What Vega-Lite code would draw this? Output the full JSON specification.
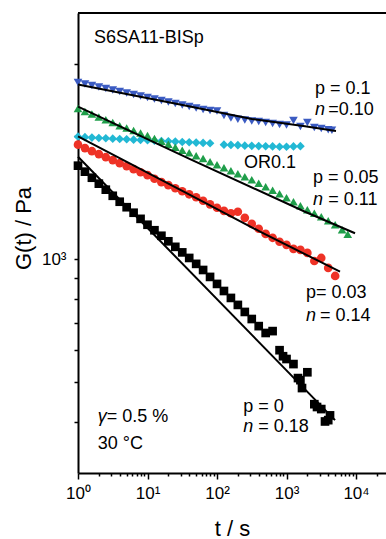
{
  "$schema": "https://vega.github.io/schema/vega-lite/v6.json",
  "width": 308,
  "height": 460,
  "autosize": {"type": "none"},
  "padding": {"left": 78, "top": 13, "right": 0, "bottom": 66},
  "background": "white",
  "config": {"view": {"stroke": null}, "font": "Liberation Sans"},
  "datasets": {
    "pts": [
      {"s": "OR0.1", "t": 1, "G": 1994}, {"s": "OR0.1", "t": 1.259, "G": 1988}, {"s": "OR0.1", "t": 1.585, "G": 1983}, {"s": "OR0.1", "t": 1.995, "G": 1979}, {"s": "OR0.1", "t": 2.512, "G": 1976}, {"s": "OR0.1", "t": 3.162, "G": 1971}, {"s": "OR0.1", "t": 3.981, "G": 1968}, {"s": "OR0.1", "t": 5.012, "G": 1965}, {"s": "OR0.1", "t": 6.31, "G": 1960}, {"s": "OR0.1", "t": 7.943, "G": 1957},
      {"s": "OR0.1", "t": 10, "G": 1954}, {"s": "OR0.1", "t": 12.59, "G": 1949}, {"s": "OR0.1", "t": 15.85, "G": 1946}, {"s": "OR0.1", "t": 19.95, "G": 1943}, {"s": "OR0.1", "t": 25.12, "G": 1939}, {"s": "OR0.1", "t": 31.62, "G": 1935}, {"s": "OR0.1", "t": 39.81, "G": 1932}, {"s": "OR0.1", "t": 50.12, "G": 1928}, {"s": "OR0.1", "t": 63.1, "G": 1925}, {"s": "OR0.1", "t": 79.43, "G": 1921},
      {"s": "OR0.1", "t": 125.9, "G": 1906}, {"s": "OR0.1", "t": 158.5, "G": 1903}, {"s": "OR0.1", "t": 199.5, "G": 1900}, {"s": "OR0.1", "t": 251.2, "G": 1895}, {"s": "OR0.1", "t": 316.2, "G": 1893}, {"s": "OR0.1", "t": 398.1, "G": 1891}, {"s": "OR0.1", "t": 501.2, "G": 1889}, {"s": "OR0.1", "t": 631, "G": 1887}, {"s": "OR0.1", "t": 794.3, "G": 1884}, {"s": "OR0.1", "t": 1000, "G": 1884}, {"s": "OR0.1", "t": 1259, "G": 1887}, {"s": "OR0.1", "t": 1585, "G": 1890},

      {"s": "p0.05", "t": 1, "G": 2336}, {"s": "p0.05", "t": 1.259, "G": 2296}, {"s": "p0.05", "t": 1.585, "G": 2264}, {"s": "p0.05", "t": 1.995, "G": 2226}, {"s": "p0.05", "t": 2.512, "G": 2194}, {"s": "p0.05", "t": 3.162, "G": 2158}, {"s": "p0.05", "t": 3.981, "G": 2121}, {"s": "p0.05", "t": 5.012, "G": 2092}, {"s": "p0.05", "t": 6.31, "G": 2063}, {"s": "p0.05", "t": 7.943, "G": 2034},
      {"s": "p0.05", "t": 10, "G": 2006}, {"s": "p0.05", "t": 12.59, "G": 1972}, {"s": "p0.05", "t": 15.85, "G": 1944}, {"s": "p0.05", "t": 19.95, "G": 1911}, {"s": "p0.05", "t": 25.12, "G": 1879}, {"s": "p0.05", "t": 31.62, "G": 1848}, {"s": "p0.05", "t": 39.81, "G": 1822}, {"s": "p0.05", "t": 50.12, "G": 1791}, {"s": "p0.05", "t": 63.1, "G": 1762}, {"s": "p0.05", "t": 79.43, "G": 1732},
      {"s": "p0.05", "t": 100, "G": 1703}, {"s": "p0.05", "t": 125.9, "G": 1674}, {"s": "p0.05", "t": 158.5, "G": 1646}, {"s": "p0.05", "t": 199.5, "G": 1619}, {"s": "p0.05", "t": 251.2, "G": 1591}, {"s": "p0.05", "t": 316.2, "G": 1565}, {"s": "p0.05", "t": 398.1, "G": 1534}, {"s": "p0.05", "t": 501.2, "G": 1504}, {"s": "p0.05", "t": 631, "G": 1474}, {"s": "p0.05", "t": 794.3, "G": 1445},
      {"s": "p0.05", "t": 1000, "G": 1413}, {"s": "p0.05", "t": 1259, "G": 1381}, {"s": "p0.05", "t": 1585, "G": 1351}, {"s": "p0.05", "t": 1995, "G": 1321}, {"s": "p0.05", "t": 2512, "G": 1295}, {"s": "p0.05", "t": 3162, "G": 1270}, {"s": "p0.05", "t": 3981, "G": 1241}, {"s": "p0.05", "t": 5012, "G": 1214}, {"s": "p0.05", "t": 6310, "G": 1180}, {"s": "p0.05", "t": 7600, "G": 1150},

      {"s": "p0.1", "t": 1, "G": 2705}, {"s": "p0.1", "t": 1.259, "G": 2682}, {"s": "p0.1", "t": 1.585, "G": 2660}, {"s": "p0.1", "t": 1.995, "G": 2637}, {"s": "p0.1", "t": 2.512, "G": 2615}, {"s": "p0.1", "t": 3.162, "G": 2593}, {"s": "p0.1", "t": 3.981, "G": 2570}, {"s": "p0.1", "t": 5.012, "G": 2549}, {"s": "p0.1", "t": 6.31, "G": 2527}, {"s": "p0.1", "t": 7.943, "G": 2506},
      {"s": "p0.1", "t": 10, "G": 2484}, {"s": "p0.1", "t": 12.59, "G": 2464}, {"s": "p0.1", "t": 15.85, "G": 2443}, {"s": "p0.1", "t": 19.95, "G": 2423}, {"s": "p0.1", "t": 25.12, "G": 2402}, {"s": "p0.1", "t": 31.62, "G": 2382}, {"s": "p0.1", "t": 39.81, "G": 2362}, {"s": "p0.1", "t": 50.12, "G": 2342}, {"s": "p0.1", "t": 63.1, "G": 2322}, {"s": "p0.1", "t": 79.43, "G": 2309},
      {"s": "p0.1", "t": 100, "G": 2303}, {"s": "p0.1", "t": 125.9, "G": 2245}, {"s": "p0.1", "t": 158.5, "G": 2213}, {"s": "p0.1", "t": 199.5, "G": 2200}, {"s": "p0.1", "t": 251.2, "G": 2189}, {"s": "p0.1", "t": 316.2, "G": 2176}, {"s": "p0.1", "t": 398.1, "G": 2170}, {"s": "p0.1", "t": 501.2, "G": 2158}, {"s": "p0.1", "t": 631, "G": 2146}, {"s": "p0.1", "t": 794.3, "G": 2134},
      {"s": "p0.1", "t": 1000, "G": 2128}, {"s": "p0.1", "t": 1259, "G": 2183}, {"s": "p0.1", "t": 1585, "G": 2110}, {"s": "p0.1", "t": 1995, "G": 2158}, {"s": "p0.1", "t": 2512, "G": 2098}, {"s": "p0.1", "t": 3162, "G": 2086}, {"s": "p0.1", "t": 3981, "G": 2074}, {"s": "p0.1", "t": 4500, "G": 2068},

      {"s": "p0.03", "t": 1, "G": 1906}, {"s": "p0.03", "t": 1.259, "G": 1869}, {"s": "p0.03", "t": 1.585, "G": 1837}, {"s": "p0.03", "t": 1.995, "G": 1807}, {"s": "p0.03", "t": 2.512, "G": 1776}, {"s": "p0.03", "t": 3.162, "G": 1747}, {"s": "p0.03", "t": 3.981, "G": 1717}, {"s": "p0.03", "t": 5.012, "G": 1689}, {"s": "p0.03", "t": 6.31, "G": 1660}, {"s": "p0.03", "t": 7.943, "G": 1632},
      {"s": "p0.03", "t": 10, "G": 1605}, {"s": "p0.03", "t": 12.59, "G": 1573}, {"s": "p0.03", "t": 15.85, "G": 1543}, {"s": "p0.03", "t": 19.95, "G": 1517}, {"s": "p0.03", "t": 25.12, "G": 1491}, {"s": "p0.03", "t": 31.62, "G": 1466}, {"s": "p0.03", "t": 39.81, "G": 1441}, {"s": "p0.03", "t": 50.12, "G": 1417}, {"s": "p0.03", "t": 63.1, "G": 1390}, {"s": "p0.03", "t": 79.43, "G": 1362},
      {"s": "p0.03", "t": 100, "G": 1336}, {"s": "p0.03", "t": 125.9, "G": 1313}, {"s": "p0.03", "t": 158.5, "G": 1295}, {"s": "p0.03", "t": 199.5, "G": 1306}, {"s": "p0.03", "t": 251.2, "G": 1262}, {"s": "p0.03", "t": 316.2, "G": 1220}, {"s": "p0.03", "t": 398.1, "G": 1187}, {"s": "p0.03", "t": 501.2, "G": 1153}, {"s": "p0.03", "t": 631, "G": 1128}, {"s": "p0.03", "t": 794.3, "G": 1103},
      {"s": "p0.03", "t": 1000, "G": 1084}, {"s": "p0.03", "t": 1259, "G": 1060}, {"s": "p0.03", "t": 1585, "G": 1054}, {"s": "p0.03", "t": 1995, "G": 1036}, {"s": "p0.03", "t": 2512, "G": 990}, {"s": "p0.03", "t": 3162, "G": 1007}, {"s": "p0.03", "t": 3981, "G": 952}, {"s": "p0.03", "t": 5012, "G": 910},

      {"s": "p0", "t": 1, "G": 1693}, {"s": "p0", "t": 1.259, "G": 1637}, {"s": "p0", "t": 1.585, "G": 1582}, {"s": "p0", "t": 1.995, "G": 1530}, {"s": "p0", "t": 2.512, "G": 1479}, {"s": "p0", "t": 3.162, "G": 1429}, {"s": "p0", "t": 3.981, "G": 1382}, {"s": "p0", "t": 5.012, "G": 1340}, {"s": "p0", "t": 6.31, "G": 1299}, {"s": "p0", "t": 7.943, "G": 1255},
      {"s": "p0", "t": 10, "G": 1214}, {"s": "p0", "t": 12.59, "G": 1177}, {"s": "p0", "t": 15.85, "G": 1141}, {"s": "p0", "t": 19.95, "G": 1106}, {"s": "p0", "t": 25.12, "G": 1072}, {"s": "p0", "t": 31.62, "G": 1039}, {"s": "p0", "t": 39.81, "G": 1007}, {"s": "p0", "t": 50.12, "G": 974}, {"s": "p0", "t": 63.1, "G": 941}, {"s": "p0", "t": 79.43, "G": 905},
      {"s": "p0", "t": 100, "G": 870}, {"s": "p0", "t": 125.9, "G": 836}, {"s": "p0", "t": 158.5, "G": 804}, {"s": "p0", "t": 199.5, "G": 773}, {"s": "p0", "t": 251.2, "G": 743}, {"s": "p0", "t": 316.2, "G": 714}, {"s": "p0", "t": 398.1, "G": 686}, {"s": "p0", "t": 501.2, "G": 660}, {"s": "p0", "t": 631, "G": 667}, {"s": "p0", "t": 794.3, "G": 599},
      {"s": "p0", "t": 891, "G": 579}, {"s": "p0", "t": 1000, "G": 570}, {"s": "p0", "t": 1259, "G": 554}, {"s": "p0", "t": 1463, "G": 512}, {"s": "p0", "t": 1585, "G": 506}, {"s": "p0", "t": 1671, "G": 484}, {"s": "p0", "t": 1995, "G": 529}, {"s": "p0", "t": 2512, "G": 442}, {"s": "p0", "t": 2748, "G": 435}, {"s": "p0", "t": 3162, "G": 430}, {"s": "p0", "t": 3580, "G": 401}, {"s": "p0", "t": 3981, "G": 404}, {"s": "p0", "t": 4227, "G": 415}
    ],
    "fits": [
      {"s": "p0.1", "t": 1, "G": 2675}, {"s": "p0.1", "t": 34.7, "G": 2375}, {"s": "p0.1", "t": 319, "G": 2203}, {"s": "p0.1", "t": 1845, "G": 2113}, {"s": "p0.1", "t": 5150, "G": 2057},
      {"s": "p0.05", "t": 1, "G": 2362}, {"s": "p0.05", "t": 40.9, "G": 1757}, {"s": "p0.05", "t": 1845, "G": 1306}, {"s": "p0.05", "t": 9680, "G": 1157},
      {"s": "p0.03", "t": 1, "G": 1998}, {"s": "p0.03", "t": 56.9, "G": 1394}, {"s": "p0.03", "t": 415.6, "G": 1168}, {"s": "p0.03", "t": 5888, "G": 932},
      {"s": "p0", "t": 1, "G": 1781}, {"s": "p0", "t": 4988, "G": 404}
    ],
    "labels": [
      {"t": 1.70, "G": 3481, "label": "S6SA11-BISp"},
      {"t": 2570, "G": 2611, "label": "p = 0.1"},
      {"t": 3995, "G": 2322, "label": "=0.10"},
      {"t": 244.5, "G": 1719, "label": "OR0.1"},
      {"t": 2405, "G": 1579, "label": "p = 0.05"},
      {"t": 3995, "G": 1398, "label": "= 0.11"},
      {"t": 1910, "G": 825, "label": "p= 0.03"},
      {"t": 3034, "G": 727, "label": "= 0.14"},
      {"t": 239, "G": 435, "label": "p = 0"},
      {"t": 393, "G": 389, "label": "= 0.18"},
      {"t": 2.59, "G": 411, "label": "= 0.5 %"},
      {"t": 1.92, "G": 354, "label": "30 °C"}
    ],
    "italic": [
      {"t": 2570, "G": 2322, "label": "n"},
      {"t": 2405, "G": 1398, "label": "n"},
      {"t": 1910, "G": 727, "label": "n"},
      {"t": 239, "G": 389, "label": "n"},
      {"t": 1.92, "G": 411, "label": "γ"}
    ],
    "frame": [{"G": 4000}]
  },
  "layer": [
    {
      "data": {"name": "pts"},
      "mark": {"type": "point", "filled": true, "opacity": 1},
      "encoding": {
        "x": {
          "field": "t", "type": "quantitative",
          "scale": {"type": "log", "domain": [1, 27000], "nice": false},
          "axis": {
            "values": [1,2,3,4,5,6,7,8,9,10,20,30,40,50,60,70,80,90,100,200,300,400,500,600,700,800,900,1000,2000,3000,4000,5000,6000,7000,8000,9000,10000,20000],
            "labelExpr": "datum.value==1?'10⁰':datum.value==10?'10¹':datum.value==100?'10²':datum.value==1000?'10³':datum.value==10000?'10⁴':''",
            "grid": false, "domainColor": "black", "domainWidth": 2,
            "tickColor": "black", "tickWidth": 1.5,
            "tickSize": {"condition": {"test": "indexof([1,10,100,1000,10000], datum.value) >= 0", "value": 6}, "value": 3},
            "labelFontSize": 17, "labelColor": "black", "labelPadding": 6, "labelFlush": false, "labelOverlap": false,
            "title": "t / s", "titleFontSize": 22, "titleFontWeight": "normal", "titleColor": "black", "titlePadding": 17
          }
        },
        "y": {
          "field": "G", "type": "quantitative",
          "scale": {"type": "log", "domain": [300, 4000], "nice": false},
          "axis": {
            "values": [400,500,600,700,800,900,1000,2000,3000],
            "labelExpr": "datum.value==1000?'10³':''",
            "grid": false, "domainColor": "black", "domainWidth": 2,
            "tickColor": "black", "tickWidth": 1.5, "tickSize": 4,
            "labelFontSize": 17, "labelColor": "black", "labelPadding": 8, "labelOverlap": false,
            "title": "G(t)  / Pa", "titleFontSize": 22, "titleFontWeight": "normal", "titleColor": "black", "titlePadding": 6, "titleY": 215
          }
        },
        "shape": {"field": "s", "type": "nominal", "legend": null,
          "scale": {"domain": ["p0.1", "p0.05", "OR0.1", "p0.03", "p0"], "range": ["triangle-down", "triangle-up", "diamond", "circle", "square"]}},
        "color": {"field": "s", "type": "nominal", "legend": null,
          "scale": {"domain": ["p0.1", "p0.05", "OR0.1", "p0.03", "p0"], "range": ["#3b5bc2", "#1f9e4a", "#22b8d4", "#ee3226", "#000000"]}},
        "size": {"field": "s", "type": "nominal", "legend": null,
          "scale": {"domain": ["p0.1", "p0.05", "OR0.1", "p0.03", "p0"], "range": [75, 75, 70, 60, 60]}}
      }
    },
    {
      "data": {"name": "fits"},
      "mark": {"type": "line", "color": "black", "strokeWidth": 2},
      "encoding": {
        "x": {"field": "t", "type": "quantitative"},
        "y": {"field": "G", "type": "quantitative"},
        "detail": {"field": "s", "type": "nominal"}
      }
    },
    {
      "data": {"name": "frame"},
      "mark": {"type": "rule", "color": "black", "strokeWidth": 2},
      "encoding": {"y": {"field": "G", "type": "quantitative"}}
    },
    {
      "data": {"name": "labels"},
      "mark": {"type": "text", "align": "left", "baseline": "middle", "fontSize": 18, "color": "black"},
      "encoding": {
        "x": {"field": "t", "type": "quantitative"},
        "y": {"field": "G", "type": "quantitative"},
        "text": {"field": "label"}
      }
    },
    {
      "data": {"name": "italic"},
      "mark": {"type": "text", "align": "left", "baseline": "middle", "fontSize": 18, "fontStyle": "italic", "color": "black"},
      "encoding": {
        "x": {"field": "t", "type": "quantitative"},
        "y": {"field": "G", "type": "quantitative"},
        "text": {"field": "label"}
      }
    }
  ]
}
